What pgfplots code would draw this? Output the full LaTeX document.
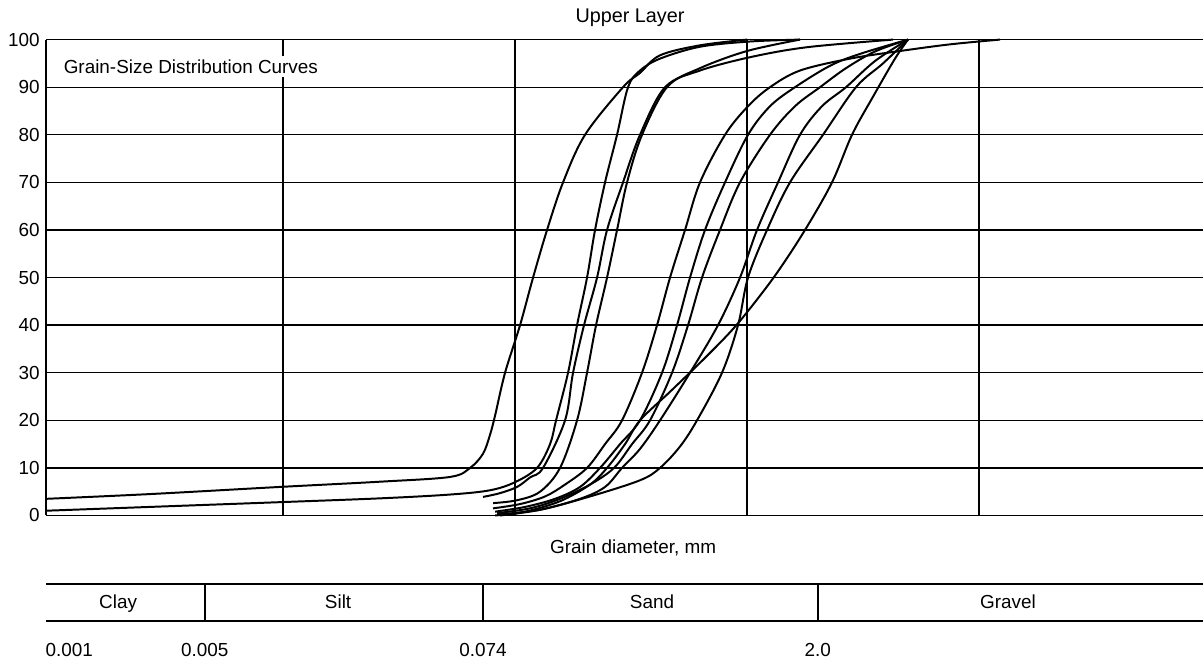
\documentclass[border=0pt]{standalone}
\usepackage{fontspec}
\setmainfont{Liberation Sans}
\usepackage{pgfplots}
\pgfplotsset{compat=1.18}

\begin{document}
\begin{tikzpicture}
\begin{axis}[
  at={(0,0)}, anchor=south west,
  scale only axis, width=642.8pt, height=264.4pt,
  xmode=log, xmin=0.000951, xmax=92.4,
  ymin=0, ymax=100,
  axis x line*=bottom, axis y line*=left,
  x axis line style={line width=1pt},
  y axis line style={line width=1.3pt},
  xtick={0.01,0.1,1,10}, xticklabels={},
  ytick={0,10,...,100},
  major tick length=0pt, minor tick length=0pt,
  xmajorgrids, ymajorgrids,
  x grid style={black, line width=1.3pt},
  y grid style={black, line width=0.75pt},
  yticklabel style={font=\fontsize{10.5}{12}\selectfont},
  /pgf/number format/assume math mode=true,
  clip=false,
  cycle list={{black, solid, mark=none}},
  every axis plot/.append style={line width=1.1pt, smooth, tension=0.55},
]
% grain-size curves (diameter mm, percent finer)
\addplot coordinates {(0.000952,3.5) (0.002671,4.5) (0.009707,6) (0.02619,7.1) (0.05246,8.1) (0.06398,10) (0.07279,13) (0.07803,17) (0.08200,21) (0.09055,30) (0.10509,40) (0.11956,50) (0.13738,60) (0.16103,70) (0.20032,80) (0.29209,90) (0.34577,93) (0.42168,96.7) (0.62718,98.8) (1.0,100)};
\addplot coordinates {(0.000952,1) (0.002671,1.8) (0.009707,2.8) (0.02619,3.6) (0.05246,4.4) (0.07803,5.3) (0.1,7) (0.12440,10) (0.14153,15) (0.15022,20) (0.16922,30) (0.18503,40) (0.20433,50) (0.22122,60) (0.24430,70) (0.27520,80) (0.30695,90) (0.34577,93.5) (0.42168,96) (0.62718,98.5) (1.03022,99.6) (1.69218,100)};
\addplot coordinates {(0.07279,3.9) (0.08617,4.7) (0.10200,6) (0.11605,8) (0.13203,10) (0.16425,20) (0.17783,30) (0.19834,40) (0.22566,50) (0.24920,60) (0.29209,70) (0.34577,80) (0.44314,90) (0.62718,93.5) (1.03022,96.3) (1.81393,98.4) (4.25890,100)};
\addplot coordinates {(0.08039,2.6) (0.10200,3.2) (0.12816,5) (0.15630,10) (0.18503,20) (0.20433,30) (0.22343,40) (0.24920,50) (0.27520,60) (0.30392,70) (0.35270,80) (0.45202,90) (0.62718,94) (1.0,97.6) (1.69218,100)};
\addplot coordinates {(0.08039,1.5) (0.10509,2.4) (0.13468,4) (0.16425,6.5) (0.20433,10) (0.24430,15) (0.28920,20) (0.35270,30) (0.40931,40) (0.46568,50) (0.54043,60) (0.62718,70) (0.80379,80) (1.00997,86) (1.25643,90) (1.69218,93.5) (2.77946,96) (4.56529,97.6) (7.49850,99) (12.3173,100)};
\addplot coordinates {(0.08200,0.8) (0.11043,1.8) (0.14874,3.5) (0.19062,6) (0.23248,10) (0.28352,15) (0.34577,20) (0.43014,30) (0.49918,40) (0.56793,50) (0.65909,60) (0.80379,70) (1.00997,80) (1.25643,86) (1.61025,90) (2.27907,94.5) (3.06947,97) (4.94253,100)};
\addplot coordinates {(0.08364,0.5) (0.11605,1.5) (0.15630,3.5) (0.21051,6.5) (0.26713,10) (0.31938,15) (0.38184,20) (0.47502,30) (0.55676,40) (0.63975,50) (0.76488,60) (0.93282,70) (1.25643,80) (1.61025,86) (2.06373,90) (2.67128,94) (3.56216,97.5) (4.94253,100)};
\addplot coordinates {(0.08364,0.2) (0.12816,1.2) (0.19062,3.5) (0.24430,6) (0.28920,10) (0.34577,14) (0.42168,20) (0.56793,30) (0.74985,40) (0.93282,50) (1.10434,60) (1.36026,70) (1.69218,80) (2.10510,86) (2.67128,90) (3.56216,95.5) (4.94253,100)};
\addplot coordinates {(0.08617,0) (0.12816,1.2) (0.21051,4) (0.34577,7.4) (0.42168,10) (0.51427,14.5) (0.60878,20) (0.78022,30) (0.91448,40) (1.00997,50) (1.21957,60) (1.53230,70) (2.12610,80) (2.94999,90) (3.85652,95) (4.94253,100)};
\addplot coordinates {(0.08200,0) (0.11043,0.8) (0.15630,3) (0.21051,6.5) (0.24920,10) (0.29794,15) (0.34577,20) (0.46568,26) (0.63975,32.5) (0.84469,38.5) (1.03022,43.5) (1.34682,51) (1.77827,60) (2.32475,70) (2.83518,80) (3.49216,88) (4.34428,96) (4.94253,100)};

% titles
\node[font=\fontsize{11}{13}\selectfont] at (axis cs:0.313,104.6) {Upper Layer};
\node[anchor=west, fill=white, inner sep=2pt, font=\fontsize{10.5}{12}\selectfont]
  at (axis cs:0.00109,94.4) {Grain-Size Distribution Curves};
\node[font=\fontsize{10.5}{12}\selectfont] at (axis cs:0.323,-6.8) {Grain diameter, mm};

% soil classification band
\draw[line width=1pt] (axis cs:0.000951,-14.4) -- (axis cs:92.4,-14.4);
\draw[line width=1pt] (axis cs:0.000951,-22.2) -- (axis cs:92.4,-22.2);
\draw[line width=1.1pt] (axis cs:0.0046,-14.4) -- (axis cs:0.0046,-22.2);
\draw[line width=1.1pt] (axis cs:0.0728,-14.4) -- (axis cs:0.0728,-22.2);
\draw[line width=1.1pt] (axis cs:2.02,-14.4) -- (axis cs:2.02,-22.2);
\begin{scope}[every node/.style={anchor=base, inner sep=0pt, font=\fontsize{10.5}{12}\selectfont}]
\node at (axis cs:0.001945,-19.6) {Clay};
\node at (axis cs:0.01726,-19.6) {Silt};
\node at (axis cs:0.3896,-19.6) {Sand};
\node at (axis cs:13.33,-19.6) {Gravel};
\node at (axis cs:0.001196,-29.6) {0.001};
\node at (axis cs:0.0046,-29.6) {0.005};
\node at (axis cs:0.0728,-29.6) {0.074};
\node at (axis cs:2.02,-29.6) {2.0};
\end{scope}
\end{axis}
\pgfresetboundingbox
\path[use as bounding box] (-25.6pt,-81.4pt) rectangle (642.8pt,286.4pt);
\end{tikzpicture}
\end{document}
